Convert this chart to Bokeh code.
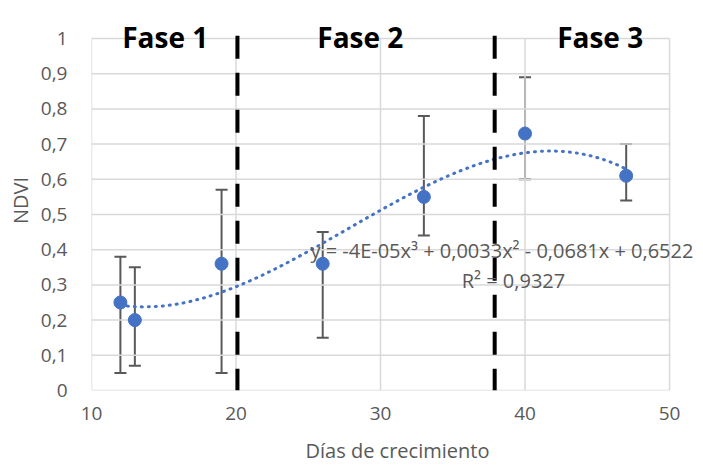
import numpy as np
from bokeh.plotting import figure
from bokeh.models import ColumnDataSource, Whisker, Label, FixedTicker
from bokeh.embed import file_html
from bokeh.resources import INLINE

dias = [12, 13, 19, 26, 33, 40, 47]
ndvi = [0.25, 0.20, 0.36, 0.36, 0.55, 0.73, 0.61]
err_low = [0.05, 0.07, 0.05, 0.15, 0.44, 0.60, 0.54]
err_high = [0.38, 0.35, 0.57, 0.45, 0.78, 0.89, 0.70]
fase_limits = [20.1, 37.9]
fase_labels = ["Fase 1", "Fase 2", "Fase 3"]
fase_pos = [15.1, 28.6, 45.2]
eq_text = "y = -4E-05x³ + 0,0033x² - 0,0681x + 0,6522"
r2_text = "R² = 0,9327"
y_ticks = [0, 0.1, 0.2, 0.3, 0.4, 0.5, 0.6, 0.7, 0.8, 0.9, 1.0]
x_ticks = [10, 20, 30, 40, 50]

FONT = "Open Sans"
GREY = "#595959"
BLUE = "#4472C4"
GRID = "#d9d9d9"

X0, X1 = 10, 50
Y0, Y1 = 0, 1
# frame extends beyond the data area so texts can overflow (as in the original)
p = figure(width=703, height=466, x_range=(X0, 52.35), y_range=(Y0, 1.0795),
           output_backend="svg", toolbar_location=None,
           min_border_left=91, min_border_right=0, min_border_top=10, min_border_bottom=76)
p.background_fill_color = "white"
p.border_fill_color = "white"
p.outline_line_color = None
p.xgrid.visible = False
p.ygrid.visible = False

# gridlines + border of the data area
p.segment(x0=[X0] * len(y_ticks), x1=[X1] * len(y_ticks), y0=y_ticks, y1=y_ticks,
          line_color=GRID, line_width=1.5)
p.segment(x0=x_ticks, x1=x_ticks, y0=[Y0] * len(x_ticks), y1=[Y1] * len(x_ticks),
          line_color=GRID, line_width=1.5)

# trendline (cubic fit of the data)
fit = np.polyfit(dias, ndvi, 3)
xs = np.linspace(min(dias), max(dias), 200)
ys = np.polyval(fit, xs)
p.line(xs, ys, line_color=BLUE, line_width=3, line_dash="1 6", line_cap="round")

src = ColumnDataSource(dict(x=dias, y=ndvi, lo=err_low, hi=err_high))
w = Whisker(base="x", lower="lo", upper="hi", source=src,
            line_color=GREY, line_width=2)
for h in (w.upper_head, w.lower_head):
    h.size = 12
    h.line_color = GREY
    h.line_width = 2
p.add_layout(w)

p.scatter("x", "y", source=src, size=13, fill_color=BLUE, line_color=BLUE)

# phase separators (dash pattern starts at the top)
p.segment(x0=fase_limits, x1=fase_limits, y0=[1.008] * 2, y1=[Y0] * 2,
          line_color="black", line_width=4, line_dash="23 14")

for lab, xp in zip(fase_labels, fase_pos):
    p.add_layout(Label(x=xp, y=Y1, y_offset=1, text=lab, text_font=FONT,
                       text_font_style="bold", text_font_size="28px",
                       text_align="center", text_baseline="alphabetic", text_color="black"))

p.add_layout(Label(x=38.4, y=0.398, text=eq_text, text_font=FONT, text_font_size="20px",
                   text_color=GREY, text_align="center", text_baseline="middle"))
p.add_layout(Label(x=39.2, y=0.3125, text=r2_text, text_font=FONT, text_font_size="20px",
                   text_color=GREY, text_align="center", text_baseline="middle"))

p.xaxis.ticker = FixedTicker(ticks=x_ticks)
p.yaxis.ticker = FixedTicker(ticks=y_ticks)
p.yaxis.major_label_overrides = {t: ("0" if t == 0 else "1" if t == 1 else f"{t:.1f}".replace(".", ",")) for t in y_ticks}

for ax in (p.xaxis, p.yaxis):
    ax.axis_line_color = None
    ax.major_tick_line_color = None
    ax.minor_tick_line_color = None
    ax.major_label_text_font = FONT
    ax.major_label_text_font_size = "19px"
    ax.major_label_text_color = GREY
    ax.axis_label_text_font = FONT
    ax.axis_label_text_font_size = "20px"
    ax.axis_label_text_color = GREY
    ax.axis_label_text_font_style = "normal"

p.xaxis.axis_label = "Días de crecimiento"
p.yaxis.axis_label = "NDVI"
p.xaxis.major_label_standoff = 10
p.yaxis.major_label_standoff = 18
p.xaxis.axis_label_standoff = 14
p.yaxis.axis_label_standoff = 4

open("out.html", "w").write(file_html(p, INLINE))
